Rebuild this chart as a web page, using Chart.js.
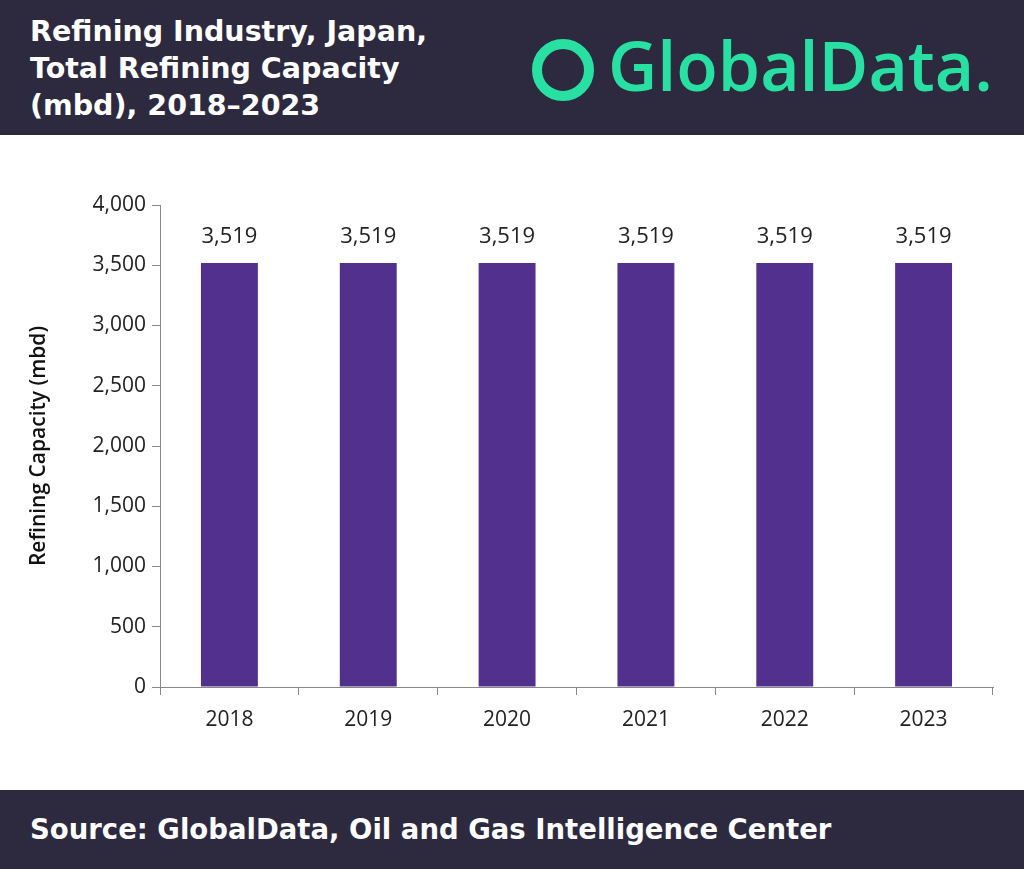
<!DOCTYPE html>
<html><head><meta charset="utf-8">
<script src="https://cdn.jsdelivr.net/npm/chart.js@4/dist/chart.umd.min.js"></script>
<style>
body{margin:0;width:1024px;height:869px;background:#fff;font-family:"DejaVu Sans",sans-serif;position:relative;overflow:hidden}
.top{position:absolute;left:0;top:0;width:1024px;height:135px;background:#2d2a3f}
.title{position:absolute;left:30px;top:13px;color:#fff;font-weight:bold;font-size:28.5px;line-height:37px}
.logo{position:absolute;left:532px;top:18px;color:#27e0a1;font-size:68px;font-family:"Open Sans",sans-serif;font-weight:600;letter-spacing:0px}
.logo .icon{display:inline-block;width:42px;height:42px;border:10px solid #27e0a1;border-radius:50%;vertical-align:-10px;margin-right:14px}
.bot{position:absolute;left:0;top:790px;width:1024px;height:79px;background:#2d2a3f;color:#fff;font-weight:bold;font-size:27.5px;line-height:79px;padding-left:30px;box-sizing:border-box}
#wrap{position:absolute;left:0;top:135px;width:1024px;height:655px}
</style></head><body>
<div class="top"><div class="title">Refining Industry, Japan,<br>Total Refining Capacity<br>(mbd), 2018–2023</div>
<div class="logo"><span class="icon"></span>GlobalData.</div></div>
<div id="wrap"><canvas id="chart"></canvas></div>
<div class="bot">Source: GlobalData, Oil and Gas Intelligence Center</div>
<script>
const years = ['2018','2019','2020','2021','2022','2023'];
const capacity = [3519,3519,3519,3519,3519,3519];
const F = '"Open Sans", sans-serif';

const labelPlugin = {
  id: 'vals',
  afterDatasetsDraw(chart) {
    const ctx = chart.ctx;
    ctx.save();
    ctx.font = '22px ' + F;
    ctx.fillStyle = '#222';
    ctx.textAlign = 'center';
    chart.getDatasetMeta(0).data.forEach((bar, i) => {
      ctx.fillText(capacity[i].toLocaleString('en-US'), bar.x, bar.y - 20);
    });
    ctx.restore();
  }
};

new Chart(document.getElementById('chart'), {
  type: 'bar',
  data: { labels: years, datasets: [{ data: capacity, backgroundColor: '#52308e', barPercentage: 0.41, categoryPercentage: 1 }] },
  options: {
    responsive: true, maintainAspectRatio: false, animation: false,
    layout: { padding: { top: 70, right: 31, left: 26, bottom: 0 } },
    plugins: { legend: { display: false }, tooltip: { enabled: false } },
    scales: {
      x: {
        afterFit: s => { s.height = 103; },
        grid: { drawOnChartArea: false, color: '#888', tickLength: 8, offset: true },
        border: { color: '#888' },
        ticks: { color: '#222', font: { size: 21, family: F }, padding: 12 }
      },
      y: {
        min: 0, max: 4000,
        afterFit: s => { s.width = 134; },
        grid: { drawOnChartArea: false, color: '#888', tickLength: 8 },
        border: { color: '#888' },
        ticks: { stepSize: 500, color: '#222', font: { size: 21, family: F }, padding: 6,
          callback: v => v.toLocaleString('en-US') },
        title: { display: true, text: 'Refining Capacity (mbd)', color: '#111', padding: { top: 0, bottom: 10 }, font: { size: 21, weight: '600', family: F } }
      }
    }
  },
  plugins: [labelPlugin]
});
</script>
</body></html>
